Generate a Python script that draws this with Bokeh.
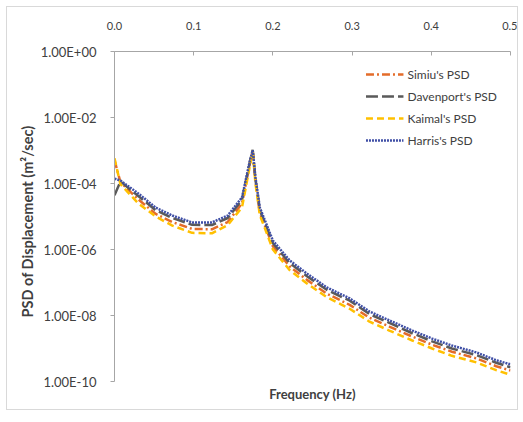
from bokeh.plotting import figure
from bokeh.models import FixedTicker, CustomJSTickFormatter, Range1d, Title
from bokeh.embed import file_html
from bokeh.resources import INLINE

freq = [0.0, 0.0075, 0.03, 0.052, 0.073, 0.098, 0.123, 0.143, 0.161, 0.171, 0.1745, 0.178,
        0.1835, 0.2, 0.221, 0.243, 0.268, 0.297, 0.322, 0.347, 0.376, 0.401, 0.426, 0.457, 0.482, 0.5]

simiu = [5.0e-4, 1.1e-4, 3.3e-5, 1.2e-5, 6.8e-6, 4.2e-6, 4.1e-6, 6.8e-6, 2.5e-5, 4.2e-4, 9.5e-4, 1.2e-4,
         1.3e-5, 1.25e-6, 3.1e-7, 1.2e-7, 4.6e-8, 2.1e-8, 8.5e-9, 4.6e-9, 2.3e-9, 1.3e-9, 8.0e-10, 5.0e-10, 2.9e-10, 2.15e-10]
davenport = [4.4e-5, 1.15e-4, 4.2e-5, 1.55e-5, 9.0e-6, 5.6e-6, 5.5e-6, 9.0e-6, 3.2e-5, 4.6e-4, 1.05e-3, 1.3e-4,
             1.55e-5, 1.55e-6, 3.9e-7, 1.55e-7, 6.0e-8, 2.8e-8, 1.1e-8, 6.0e-9, 2.9e-9, 1.65e-9, 1.0e-9, 6.3e-10, 3.7e-10, 2.7e-10]
kaimal = [5.8e-4, 9.5e-5, 2.5e-5, 1.0e-5, 5.3e-6, 3.2e-6, 3.1e-6, 5.5e-6, 1.9e-5, 3.5e-4, 9.0e-4, 1.0e-4,
          1.1e-5, 1.0e-6, 2.4e-7, 9.3e-8, 3.6e-8, 1.6e-8, 6.5e-9, 3.5e-9, 1.75e-9, 1.0e-9, 6.0e-10, 3.8e-10, 2.2e-10, 1.6e-10]
harris = [1.41e-4, 1.23e-4, 5.0e-5, 1.86e-5, 1.07e-5, 6.6e-6, 6.6e-6, 1.07e-5, 3.8e-5, 5.0e-4, 1.0e-3, 1.51e-4,
          1.86e-5, 1.86e-6, 4.7e-7, 1.86e-7, 7.1e-8, 3.3e-8, 1.32e-8, 7.1e-9, 3.5e-9, 2.0e-9, 1.23e-9, 7.6e-10, 4.4e-10, 3.3e-10]

x_ticks = [0.0, 0.1, 0.2, 0.3, 0.4, 0.5]
y_ticks = [1e0, 1e-2, 1e-4, 1e-6, 1e-8, 1e-10]

FONT = "Lato"
TXT = "#404040"

p = figure(width=512, height=404, x_range=Range1d(0, 0.5), y_range=Range1d(1e-10, 1),
           y_axis_type="log", x_axis_location="above",
           output_backend="svg", toolbar_location=None,
           min_border_left=107, min_border_right=9, min_border_top=44, min_border_bottom=30)
p.styles = {"border": "1px solid #d9d9d9", "margin-left": "6px", "margin-top": "6px"}
p.outline_line_color = None
p.grid.visible = False

p.line(freq, simiu, line_color="#E46C2A", line_width=2.5, line_dash="8 3 2 3", legend_label="Simiu's PSD")
p.line(freq, davenport, line_color="#5a5a5a", line_width=2.5, line_dash="12 4", legend_label="Davenport's PSD")
p.line(freq, kaimal, line_color="#FFC000", line_width=2.5, line_dash="7 4", legend_label="Kaimal's PSD")
p.line(freq, harris, line_color="#3F4FA6", line_width=2.5, line_dash="2 1", legend_label="Harris's PSD")

xa = p.xaxis[0]
xa.ticker = FixedTicker(ticks=x_ticks)
xa.formatter = CustomJSTickFormatter(code="return tick.toFixed(1);")
xa.minor_tick_line_color = None
xa.major_tick_in = 4
xa.major_tick_out = 0
xa.major_label_standoff = 22
xa.axis_line_color = "#a6a6a6"
xa.major_tick_line_color = "#a6a6a6"
xa.major_label_text_font = FONT
xa.major_label_text_font_size = "11px"
xa.major_label_text_color = TXT

ya = p.yaxis[0]
ya.ticker = FixedTicker(ticks=y_ticks)
ya.formatter = CustomJSTickFormatter(code="""
const e = Math.round(Math.log10(tick));
const s = e < 0 ? '-' : '+';
const a = Math.abs(e);
return '1.00E' + s + (a < 10 ? '0' : '') + a;
""")
ya.minor_tick_line_color = None
ya.major_tick_in = 0
ya.major_tick_out = 4
ya.major_label_standoff = 14
ya.axis_line_color = "#a6a6a6"
ya.major_tick_line_color = "#a6a6a6"
ya.major_label_text_font = FONT
ya.major_label_text_font_size = "13px"
ya.major_label_text_color = TXT

ytitle = Title(text="PSD of Displacement (m²/sec)", align="left", offset=64, standoff=4,
               text_font=FONT, text_font_style="bold", text_font_size="14.5px", text_color=TXT)
p.add_layout(ytitle, "left")

t = Title(text="Frequency (Hz)", align="center", standoff=4, text_font=FONT, text_font_style="bold",
          text_font_size="13px", text_color=TXT)
p.add_layout(t, "below")

lg = p.legend[0]
lg.location = "top_right"
lg.margin = 13
lg.padding = 4
lg.border_line_color = None
lg.background_fill_alpha = 0.9
lg.label_text_font = FONT
lg.label_text_font_size = "12px"
lg.label_text_color = TXT
lg.glyph_width = 38
lg.label_height = 20
lg.glyph_height = 20
lg.spacing = 2
lg.label_standoff = 4

open("out.html", "w").write(file_html(p, INLINE))
